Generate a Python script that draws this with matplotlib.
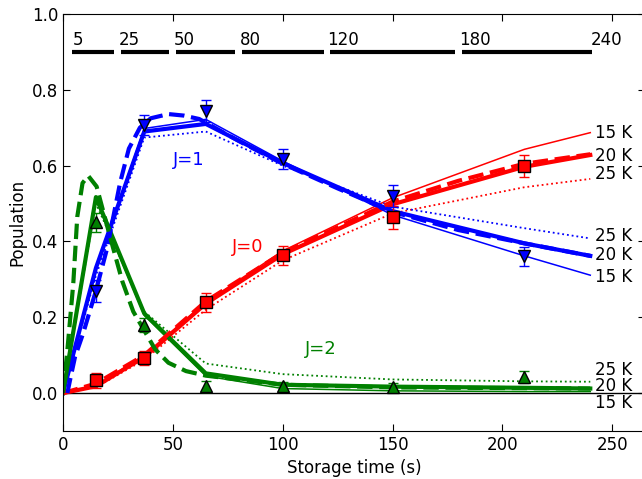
import numpy as np
import matplotlib
matplotlib.use("Agg")
import matplotlib.pyplot as plt

# measured populations
t_meas = [15, 37, 65, 100, 150, 210]
j0_meas = [0.034, 0.092, 0.240, 0.364, 0.464, 0.599]
j0_err = [0.020, 0.018, 0.025, 0.025, 0.030, 0.030]
j1_meas = [0.269, 0.707, 0.744, 0.617, 0.520, 0.361]
j1_err = [0.030, 0.026, 0.030, 0.026, 0.028, 0.025]
j2_meas = [0.451, 0.179, 0.018, 0.018, 0.016, 0.042]
j2_err = [0.025, 0.018, 0.015, 0.010, 0.010, 0.015]

# rate-model curves for three temperatures
t_model = [0, 15, 37, 65, 100, 150, 210, 240]
j0_15k = [0, 0.020, 0.100, 0.240, 0.375, 0.515, 0.643, 0.687]
j0_20k = [0, 0.018, 0.095, 0.236, 0.366, 0.498, 0.597, 0.628]
j0_25k = [0, 0.015, 0.088, 0.220, 0.350, 0.474, 0.543, 0.565]
j1_15k = [0, 0.330, 0.698, 0.722, 0.612, 0.470, 0.362, 0.311]
j1_20k = [0, 0.330, 0.690, 0.710, 0.607, 0.480, 0.395, 0.362]
j1_25k = [0, 0.310, 0.674, 0.690, 0.600, 0.492, 0.435, 0.408]
j2_15k = [0, 0.510, 0.205, 0.045, 0.012, 0.006, 0.004, 0.004]
j2_20k = [0, 0.517, 0.210, 0.052, 0.022, 0.017, 0.014, 0.012]
j2_25k = [0, 0.500, 0.215, 0.078, 0.050, 0.036, 0.031, 0.030]

# smooth fit curves (dashed)
t_fit_j1 = [2, 3.2, 5.5, 9.2, 15, 20, 26, 30, 35, 40, 48, 55, 62, 80, 100, 125, 150, 180, 210, 240]
j1_fit = [0, 0.034, 0.096, 0.158, 0.270, 0.380, 0.555, 0.645, 0.700, 0.725, 0.736, 0.732,
          0.723, 0.665, 0.605, 0.540, 0.478, 0.430, 0.395, 0.362]
t_fit_j2 = [0, 2, 4.7, 6.5, 8.9, 11.5, 15.3, 18.3, 22, 27, 32, 37, 42, 48, 56, 65, 100, 150, 240]
j2_fit = [0, 0.113, 0.290, 0.465, 0.554, 0.573, 0.545, 0.480, 0.400, 0.295, 0.215, 0.165,
          0.115, 0.080, 0.058, 0.046, 0.022, 0.015, 0.012]
t_fit_j0 = [0, 15, 37, 65, 100, 150, 180, 210, 240]
j0_fit = [0, 0.025, 0.100, 0.242, 0.370, 0.505, 0.560, 0.605, 0.630]

# storage time windows drawn at the top
bar_labels = ["5", "25", "50", "80", "120", "180", "240"]
bar_start = [4, 26.4, 51.4, 81.5, 121.4, 181.5]
bar_end = [23.3, 48.2, 78.5, 119, 178.2, 240.6]
label_x = [4.3, 25.3, 50.3, 80.3, 120.3, 180.3, 240.0]

fig = plt.figure(figsize=(6.42, 4.79), dpi=100)
ax = fig.add_axes([0.0981, 0.1002, 0.9069, 0.8706])

ax.axhline(0, color="black", lw=1, zorder=1)

for color, m15, m20, m25 in [("red", j0_15k, j0_20k, j0_25k),
                             ("blue", j1_15k, j1_20k, j1_25k),
                             ("green", j2_15k, j2_20k, j2_25k)]:
    ax.plot(t_model, m15, color=color, lw=1.1)
    ax.plot(t_model, m20, color=color, lw=3)
    ax.plot(t_model, m25, color=color, lw=1.3, ls=":")

ax.plot(t_fit_j0, j0_fit, color="red", lw=3, ls="--")
ax.plot(t_fit_j1, j1_fit, color="blue", lw=3, ls="--")
ax.plot(t_fit_j2, j2_fit, color="green", lw=3, ls="--")

for y, err, color, mk in [(j0_meas, j0_err, "red", "s"),
                          (j1_meas, j1_err, "blue", "v"),
                          (j2_meas, j2_err, "green", "^")]:
    ax.errorbar(t_meas, y, yerr=err, fmt=mk, color=color, mfc=color, mec="black",
                mew=1, ms=8, ecolor=color, elinewidth=1, capsize=3.5, capthick=1.5, zorder=5)

# state labels
ax.text(50, 0.615, "J=1", color="blue", fontsize=13, va="center")
ax.text(76.7, 0.385, "J=0", color="red", fontsize=13, va="center")
ax.text(110, 0.116, "J=2", color="green", fontsize=13, va="center")

# temperature labels at the right end
temp_labels = [("15 K", 0.686), ("20 K", 0.626), ("25 K", 0.578),
               ("25 K", 0.415), ("20 K", 0.364), ("15 K", 0.307),
               ("25 K", 0.061), ("20 K", 0.020), ("15 K", -0.027)]
for txt, yy in temp_labels:
    ax.text(242.3, yy, txt, fontsize=12, va="center")

# top bars
for s, e in zip(bar_start, bar_end):
    ax.plot([s, e], [0.899, 0.899], color="black", lw=3, solid_capstyle="butt")
for lab, xx in zip(bar_labels, label_x):
    ax.text(xx, 0.931, lab, fontsize=12, va="center")

ax.set_xlim(0, 265)
ax.set_ylim(-0.1, 1.0)
ax.set_xticks([0, 50, 100, 150, 200, 250])
ax.set_yticks([0.0, 0.2, 0.4, 0.6, 0.8, 1.0])
ax.tick_params(direction="in", top=True, right=True, labelsize=12, length=5)
ax.set_xlabel("Storage time (s)", fontsize=12)
ax.set_ylabel("Population", fontsize=12)

fig.savefig("out.png", dpi=100)
